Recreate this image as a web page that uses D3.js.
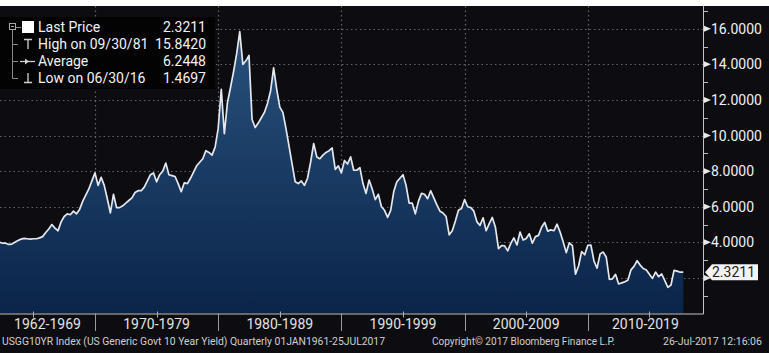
<!DOCTYPE html>
<html>
<head>
<meta charset="utf-8">
<script src="https://cdn.jsdelivr.net/npm/d3@7"></script>
<style>
  html, body { margin: 0; padding: 0; background: #ffffff; }
  svg { display: block; }
</style>
</head>
<body>
<div id="chart"></div>
<script>
/********** Data (quarter-end yields, %) **********/
var firstYear = 1961 // 1961 Q1 is the first quarter
var yields1960s = [
  3.85, 3.85, 3.95, 3.95,
  4.00, 3.95, 3.95, 3.88,
  3.90, 4.00, 4.10, 4.18,
  4.22, 4.20, 4.18, 4.20,
  4.20, 4.25, 4.32, 4.55,
  4.75, 5.00, 4.80, 4.65,
  5.15, 5.45, 5.60, 5.55,
  5.75, 5.60, 5.85, 6.30,
  6.65, 7.00, 7.45, 7.90
]
var yields1970s = [
  7.20, 7.65, 7.20, 6.45,
  5.65, 6.70, 5.95, 5.95,
  6.05, 6.20, 6.35, 6.50,
  6.80, 6.90, 6.90, 7.10,
  7.45, 7.80, 7.90, 7.40,
  7.80, 8.00, 8.45, 7.80,
  7.75, 7.70, 7.30, 6.85,
  7.35, 7.30, 7.60, 7.95,
  8.30, 8.50, 8.70, 9.15,
  9.05, 8.90, 9.35, 10.40
]
var yields1980s = [
  12.60, 10.10, 11.85, 12.70,
  13.60, 14.60, 15.842, 14.00,
  14.20, 14.50, 10.90, 10.45,
  10.70, 11.00, 11.30, 11.80,
  12.50, 13.80, 12.60, 11.60,
  11.30, 10.40, 9.40, 8.40,
  7.40, 7.30, 7.45, 7.20,
  7.60, 8.50, 9.55, 8.80,
  8.70, 8.90, 9.05, 9.15,
  9.30, 8.10, 8.30, 7.90
]
var yields1990s = [
  8.60, 8.40, 8.80, 8.05,
  8.05, 8.20, 7.30, 6.75,
  7.50, 7.00, 6.40, 6.70,
  6.00, 5.80, 5.40, 5.80,
  6.85, 7.40, 7.60, 7.80,
  7.20, 6.20, 6.20, 5.60,
  6.30, 6.75, 6.70, 6.45,
  6.90, 6.50, 6.10, 5.75,
  5.65, 5.45, 4.42, 4.65,
  5.20, 5.80, 5.90, 6.40
]
var yields2000s = [
  6.00, 5.95, 5.75, 5.15,
  4.95, 5.38, 4.65, 5.05,
  5.40, 4.85, 3.65, 3.82,
  3.80, 3.52, 3.94, 4.25,
  3.85, 4.58, 4.13, 4.22,
  4.48, 3.95, 4.32, 4.39,
  4.85, 5.12, 4.63, 4.70,
  4.65, 5.02, 4.58, 4.03,
  3.42, 3.97, 3.82, 2.21,
  2.67, 3.48, 3.30, 3.83
]
var yields2010s = [
  3.85, 2.95, 2.55, 3.35,
  3.45, 3.16, 1.92, 1.95,
  2.20, 1.66, 1.72, 1.78,
  1.87, 2.45, 2.65, 2.97,
  2.72, 2.53, 2.45, 2.20,
  1.97, 2.33, 2.07, 2.22,
  1.85, 1.4697, 1.60, 2.42,
  2.38, 2.32, 2.3211
]

var decadeStarts = [1960, 1970, 1980, 1990, 2000, 2010]
var decadeLabels = ["1962-1969", "1970-1979", "1980-1989", "1990-1999", "2000-2009", "2010-2019"]
var yTicks = [2, 4, 6, 8, 10, 12, 14, 16]
var yMinorTicks = [1, 3, 5, 7, 9, 11, 13, 15, 17]

var legendLabels = ["Last Price", "High on 09/30/81", "Average", "Low on 06/30/16"]
var legendValues = ["2.3211", "15.8420", "6.2448", "1.4697"]
var lastPrice = 2.3211

var footLeft = "USGG10YR Index (US Generic Govt 10 Year Yield)  Quarterly 01JAN1961-25JUL2017"
var footMid = "Copyright\u00A9 2017 Bloomberg Finance L.P."
var footRight = "26-Jul-2017 12:16:06"

/********** Build series **********/
var lineData = []
d3.merge([yields1960s, yields1970s, yields1980s, yields1990s, yields2000s, yields2010s])
  .forEach(function(v, i) { lineData.push({t: firstYear + (i + 1) / 4, v: v}) })

/********** SVG **********/
var width = 769, height = 353
var plotRight = 703, plotTop = 6, plotBottom = 313.5
var font = "Roboto, 'Liberation Sans', sans-serif"

var svg = d3.select("#chart").append("svg")
    .attr("width", width)
    .attr("height", height)

svg.append("rect").attr("width", width).attr("height", height).attr("fill", "#ffffff")
svg.append("rect").attr("y", plotTop).attr("width", width).attr("height", height - plotTop)
    .attr("fill", "#0d0c10")

var x = d3.scaleLinear().domain([1962.29, 2019.35]).range([0, plotRight])
var y = d3.scaleLinear().domain([0, 17.28]).range([plotBottom, plotTop])

var defs = svg.append("defs")
defs.append("clipPath").attr("id", "plotClip")
  .append("rect").attr("x", 0).attr("y", plotTop).attr("width", plotRight).attr("height", plotBottom - plotTop)

var grad = defs.append("linearGradient").attr("id", "areaGrad")
    .attr("gradientUnits", "userSpaceOnUse")
    .attr("x1", 0).attr("x2", 0).attr("y1", y(16)).attr("y2", plotBottom)
grad.append("stop").attr("offset", 0).attr("stop-color", "#28527d")
grad.append("stop").attr("offset", 1).attr("stop-color", "#0b2449")

// gridlines
var grid = svg.append("g").attr("stroke", "#62666f").attr("stroke-width", 1.2)
    .attr("stroke-dasharray", "1.5,3")
grid.selectAll(".hg").data(yTicks).enter().append("line")
    .attr("x1", 0).attr("x2", plotRight)
    .attr("y1", function(d) { return Math.round(y(d)) + 0.5 })
    .attr("y2", function(d) { return Math.round(y(d)) + 0.5 })
grid.selectAll(".vg").data(decadeStarts.slice(1)).enter().append("line")
    .attr("y1", plotTop).attr("y2", plotBottom)
    .attr("x1", function(d) { return Math.round(x(d)) + 0.5 })
    .attr("x2", function(d) { return Math.round(x(d)) + 0.5 })

// area and line
var plotG = svg.append("g").attr("clip-path", "url(#plotClip)")
plotG.append("path")
    .datum(lineData)
    .attr("fill", "url(#areaGrad)")
    .attr("d", d3.area()
      .x(function(d) { return x(d.t) })
      .y0(plotBottom)
      .y1(function(d) { return y(d.v) }))
plotG.append("path")
    .datum(lineData)
    .attr("fill", "none")
    .attr("stroke", "#e4e8ee")
    .attr("stroke-width", 1.7)
    .attr("stroke-linejoin", "round")
    .attr("d", d3.line()
      .x(function(d) { return x(d.t) })
      .y(function(d) { return y(d.v) }))

// axes lines
svg.append("line").attr("x1", 0).attr("x2", plotRight + 0.5)
    .attr("y1", plotBottom + 0.5).attr("y2", plotBottom + 0.5)
    .attr("stroke", "#c4c4c4").attr("stroke-width", 1)
svg.append("line").attr("x1", plotRight + 0.5).attr("x2", plotRight + 0.5)
    .attr("y1", plotTop).attr("y2", plotBottom + 0.5)
    .attr("stroke", "#c4c4c4").attr("stroke-width", 1)

// x axis: decade separators, mid-decade ticks, labels
svg.selectAll(".sep").data(decadeStarts.slice(1)).enter().append("line")
    .attr("x1", function(d) { return Math.round(x(d)) + 0.5 })
    .attr("x2", function(d) { return Math.round(x(d)) + 0.5 })
    .attr("y1", plotBottom).attr("y2", 331)
    .attr("stroke", "#9a9a9a")
svg.selectAll(".mid").data(decadeStarts).enter().append("line")
    .attr("x1", function(d) { return Math.round(x(d + 5)) + 0.5 })
    .attr("x2", function(d) { return Math.round(x(d + 5)) + 0.5 })
    .attr("y1", plotBottom - 2).attr("y2", plotBottom + 4)
    .attr("stroke", "#b0b0b0")
svg.selectAll(".xl").data(decadeLabels).enter().append("text")
    .attr("x", function(d, i) {
      var a = Math.max(x(decadeStarts[i]), 0), b = Math.min(x(decadeStarts[i] + 10), plotRight)
      return (a + b) / 2
    })
    .attr("y", 328.5)
    .attr("text-anchor", "middle")
    .attr("fill", "#e2e2e2")
    .style("font", "14px " + font)
    .text(function(d) { return d })

// y axis (right): arrow ticks, minor ticks, labels
svg.selectAll(".yt").data(yTicks).enter().append("path")
    .attr("d", function(d) {
      var yy = y(d)
      return "M" + (plotRight + 1) + "," + (yy - 3) + "L" + (plotRight + 8) + "," + yy + "L" + (plotRight + 1) + "," + (yy + 3) + "Z"
    })
    .attr("fill", "#e8e8e8")
svg.selectAll(".ym").data(yMinorTicks).enter().append("line")
    .attr("x1", plotRight).attr("x2", plotRight + 5)
    .attr("y1", function(d) { return Math.round(y(d)) + 0.5 })
    .attr("y2", function(d) { return Math.round(y(d)) + 0.5 })
    .attr("stroke", "#bdbdbd")
svg.selectAll(".yl").data(yTicks.filter(function(d) { return d > 2 })).enter().append("text")
    .attr("x", 711)
    .attr("y", function(d) { return y(d) + 5 })
    .attr("fill", "#f0f0f0")
    .style("font", "14px " + font)
    .text(function(d) { return d3.format(".4f")(d) })

// last price tag
var ly = y(lastPrice)
svg.append("path")
    .attr("d", "M" + (plotRight + 2) + "," + ly + "L" + (plotRight + 9) + "," + (ly - 8) + "L758," + (ly - 8) +
      "L758," + (ly + 8) + "L" + (plotRight + 9) + "," + (ly + 8) + "Z")
    .attr("fill", "#f4f4f4")
svg.append("text")
    .attr("x", 712).attr("y", ly + 5)
    .attr("fill", "#202020")
    .style("font", "14px " + font)
    .text(d3.format(".4f")(lastPrice))

// legend
var leg = svg.append("g")
leg.append("rect").attr("x", 0).attr("y", 17).attr("width", 215).attr("height", 72)
    .attr("fill", "#030304")
var rowY = [27, 44, 61, 78]
leg.append("rect").attr("x", 9.5).attr("y", 23.5).attr("width", 6).attr("height", 6)
    .attr("fill", "none").attr("stroke", "#a8a8a8")
leg.append("line").attr("x1", 11).attr("x2", 14).attr("y1", 26.5).attr("y2", 26.5).attr("stroke", "#a8a8a8")
leg.append("line").attr("x1", 12.5).attr("x2", 12.5).attr("y1", 30).attr("y2", rowY[3] + 0.5)
    .attr("stroke", "#8a8a8a")
leg.selectAll(".br").data(rowY.slice(1)).enter().append("line")
    .attr("x1", 12.5).attr("x2", 18).attr("y1", function(d) { return d + 0.5 }).attr("y2", function(d) { return d + 0.5 })
    .attr("stroke", "#8a8a8a")
leg.append("line").attr("x1", 16).attr("x2", 21).attr("y1", 27.5).attr("y2", 27.5).attr("stroke", "#8a8a8a")
// icons
leg.append("rect").attr("x", 22).attr("y", 21).attr("width", 12).attr("height", 12).attr("fill", "#ffffff")
leg.append("path").attr("d", "M24,39.5H32M28,39.5V49").attr("stroke", "#d0d0d0").attr("stroke-width", 1.3).attr("fill", "none")
leg.append("path").attr("d", "M20,61.5H35").attr("stroke", "#d0d0d0").attr("stroke-width", 1.3)
leg.append("path").attr("d", "M25,58.5L29,61.5L25,64.5Z").attr("fill", "#d0d0d0")
leg.append("path").attr("d", "M24,82.5H32M28,82.5V73").attr("stroke", "#d0d0d0").attr("stroke-width", 1.3).attr("fill", "none")
leg.selectAll(".ll").data(legendLabels).enter().append("text")
    .attr("x", 38).attr("y", function(d, i) { return rowY[i] + 5 })
    .attr("fill", "#f2f2f2")
    .style("font", "14px " + font)
    .text(function(d) { return d })
leg.selectAll(".lv").data(legendValues).enter().append("text")
    .attr("x", 206).attr("y", function(d, i) { return rowY[i] + 5 })
    .attr("text-anchor", "end")
    .attr("fill", "#f2f2f2")
    .style("font", "14px " + font)
    .text(function(d) { return d })

// footer
svg.append("text").attr("x", 2).attr("y", 345)
    .attr("textLength", 383).attr("lengthAdjust", "spacingAndGlyphs")
    .attr("fill", "#cfcfcf").style("font", "10px " + font).text(footLeft)
svg.append("text").attr("x", 432).attr("y", 345)
    .attr("textLength", 183).attr("lengthAdjust", "spacingAndGlyphs")
    .attr("fill", "#cfcfcf").style("font", "10px " + font).text(footMid)
svg.append("text").attr("x", 663).attr("y", 345)
    .attr("textLength", 99).attr("lengthAdjust", "spacingAndGlyphs")
    .attr("fill", "#cfcfcf").style("font", "10px " + font).text(footRight)
</script>
</body>
</html>
